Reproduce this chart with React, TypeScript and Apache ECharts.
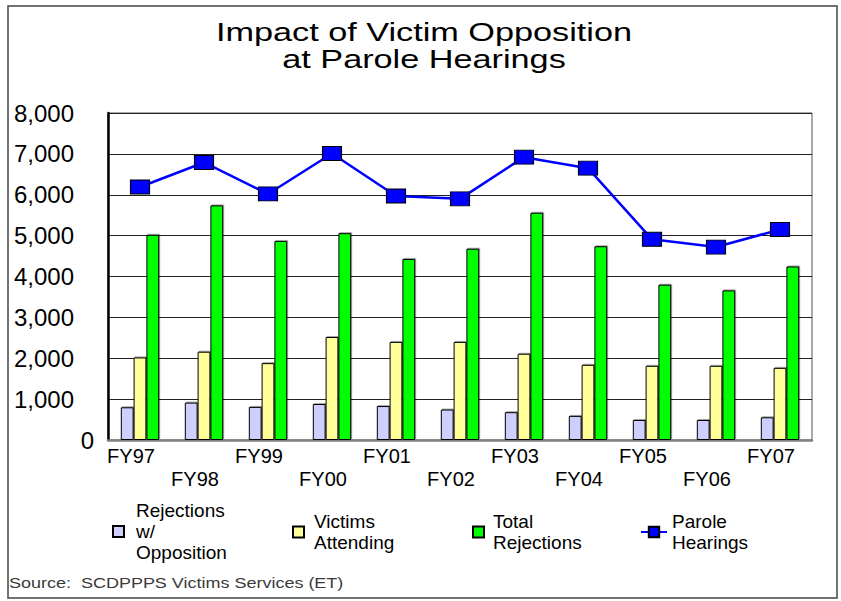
import React, { useEffect, useRef } from 'react';
import * as echarts from 'echarts';

const categories = ['FY97', 'FY98', 'FY99', 'FY00', 'FY01', 'FY02', 'FY03', 'FY04', 'FY05', 'FY06', 'FY07'];
const rejectionsWithOpposition = [800, 915, 810, 880, 830, 745, 680, 590, 490, 490, 555];
const victimsAttending = [2020, 2160, 1880, 2520, 2400, 2400, 2110, 1840, 1815, 1815, 1765];
const totalRejections = [5020, 5740, 4870, 5060, 4430, 4680, 5560, 4740, 3800, 3660, 4245];
const paroleHearings = [6190, 6790, 6020, 7010, 5970, 5900, 6920, 6650, 4910, 4720, 5150];
const seriesNames = ['Rejections\nw/\nOpposition', 'Victims\nAttending', 'Total\nRejections', 'Parole\nHearings'];
const yMin = 0;
const yMax = 8000;
const yStep = 1000;
const titleLines = ['Impact of Victim Opposition', 'at Parole Hearings'];
const sourceNote = 'Source:  SCDPPPS Victims Services (ET)';

const FONT = '"Liberation Sans", Arial, Helvetica, sans-serif';

export default function App() {
  const ref = useRef<HTMLDivElement>(null);
  useEffect(() => {
    if (!ref.current) return;
    const chart = echarts.init(ref.current, null, { renderer: 'svg' });
    const legendText = (pad: number) => ({
      fontFamily: FONT,
      fontSize: 19,
      lineHeight: 21,
      color: '#000',
      padding: [0, 0, 0, pad],
    });
    const barShadow = { shadowColor: 'rgba(0,0,0,0.35)', shadowOffsetX: 1, shadowOffsetY: -1, shadowBlur: 0 };
    const option: any = {
      animation: false,
      backgroundColor: '#fff',
      textStyle: { fontFamily: FONT },
      grid: {
        left: 108,
        top: 113,
        right: 29,
        bottom: 161,
        show: true,
        borderColor: '#555',
        borderWidth: 1,
        backgroundColor: '#fff',
      },
      graphic: [
        {
          type: 'rect',
          silent: true,
          shape: { x: 8, y: 6, width: 829, height: 592 },
          style: { fill: 'none', stroke: '#444', lineWidth: 1.5 },
        },
        {
          type: 'group',
          x: 424,
          y: 0,
          scaleX: 1.37,
          children: [
            {
              type: 'text',
              x: 0,
              y: 32,
              style: {
                text: titleLines[0],
                fontFamily: FONT,
                fontSize: 25,
                fill: '#000',
                textAlign: 'center',
                textVerticalAlign: 'middle',
              },
            },
            {
              type: 'text',
              x: 0,
              y: 59,
              style: {
                text: titleLines[1],
                fontFamily: FONT,
                fontSize: 25,
                fill: '#000',
                textAlign: 'center',
                textVerticalAlign: 'middle',
              },
            },
          ],
        },
        {
          type: 'group',
          x: 9,
          y: 583,
          scaleX: 1.2,
          children: [
            {
              type: 'text',
              x: 0,
              y: 0,
              style: {
                text: sourceNote,
                fontFamily: FONT,
                fontSize: 15,
                fill: '#3a3a3a',
                textAlign: 'left',
                textVerticalAlign: 'middle',
              },
            },
          ],
        },
      ],
      legend: [
        {
          data: [{ name: seriesNames[0], icon: 'rect' }],
          left: 112,
          top: 500,
          padding: 0,
          itemWidth: 11,
          itemHeight: 11,
          selectedMode: false,
          textStyle: legendText(7),
        },
        {
          data: [{ name: seriesNames[1], icon: 'rect' }],
          left: 292,
          top: 511,
          padding: 0,
          itemWidth: 11,
          itemHeight: 11,
          selectedMode: false,
          textStyle: legendText(5),
        },
        {
          data: [{ name: seriesNames[2], icon: 'rect' }],
          left: 472,
          top: 511,
          padding: 0,
          itemWidth: 11,
          itemHeight: 11,
          selectedMode: false,
          textStyle: legendText(4),
        },
        {
          data: [{ name: seriesNames[3] }],
          left: 640,
          top: 511,
          padding: 0,
          itemWidth: 26,
          itemHeight: 13,
          selectedMode: false,
          textStyle: legendText(0),
        },
      ],
      xAxis: {
        type: 'category',
        data: categories,
        axisLine: { show: true, lineStyle: { color: '#808080', width: 2.5 } },
        axisTick: { show: false },
        axisLabel: {
          interval: 0,
          margin: 4,
          fontFamily: FONT,
          fontSize: 20,
          lineHeight: 23.5,
          color: '#000',
          padding: [0, 18, 0, 0],
          formatter: (v: string, i: number) => (i % 2 === 1 ? '\n' + v : v),
        },
        splitLine: { show: false },
      },
      yAxis: {
        type: 'value',
        min: yMin,
        max: yMax,
        interval: yStep,
        axisLine: { show: true, lineStyle: { color: '#000', width: 2.5 } },
        axisTick: { show: false },
        splitLine: { show: true, lineStyle: { color: '#222', width: 1 } },
        axisLabel: {
          align: 'left',
          margin: 100,
          fontFamily: FONT,
          fontSize: 24,
          color: '#000',
          formatter: (v: number) =>
            v === 0 ? '{z|0}' : '{n|' + v.toLocaleString('en-US') + '}',
          rich: {
            n: { width: 66, align: 'right', fontSize: 24, fontFamily: FONT, color: '#000' },
            z: { width: 86, align: 'right', fontSize: 24, fontFamily: FONT, color: '#000' },
          },
        },
      },
      series: [
        {
          name: seriesNames[0],
          type: 'bar',
          data: rejectionsWithOpposition,
          barGap: '0%',
          barCategoryGap: '40%',
          itemStyle: { color: '#CFCFFF', borderColor: '#000', borderWidth: 1, ...barShadow },
        },
        {
          name: seriesNames[1],
          type: 'bar',
          data: victimsAttending,
          barGap: '0%',
          barCategoryGap: '40%',
          itemStyle: { color: '#FFFF99', borderColor: '#000', borderWidth: 1, ...barShadow },
        },
        {
          name: seriesNames[2],
          type: 'bar',
          data: totalRejections,
          barGap: '0%',
          barCategoryGap: '40%',
          itemStyle: { color: '#00FF00', borderColor: '#000', borderWidth: 1, ...barShadow },
        },
        {
          name: seriesNames[3],
          type: 'line',
          data: paroleHearings,
          symbol: 'rect',
          symbolSize: [19, 14],
          z: 5,
          lineStyle: { color: '#0000FF', width: 2.5 },
          itemStyle: { color: '#0000FF', borderColor: '#000', borderWidth: 1 },
        },
      ],
    };
    chart.setOption(option);
    return () => chart.dispose();
  }, []);
  return (
    <div
      ref={ref}
      style={{ position: 'fixed', left: 0, top: 0, width: 841, height: 601, background: '#fff' }}
    />
  );
}
